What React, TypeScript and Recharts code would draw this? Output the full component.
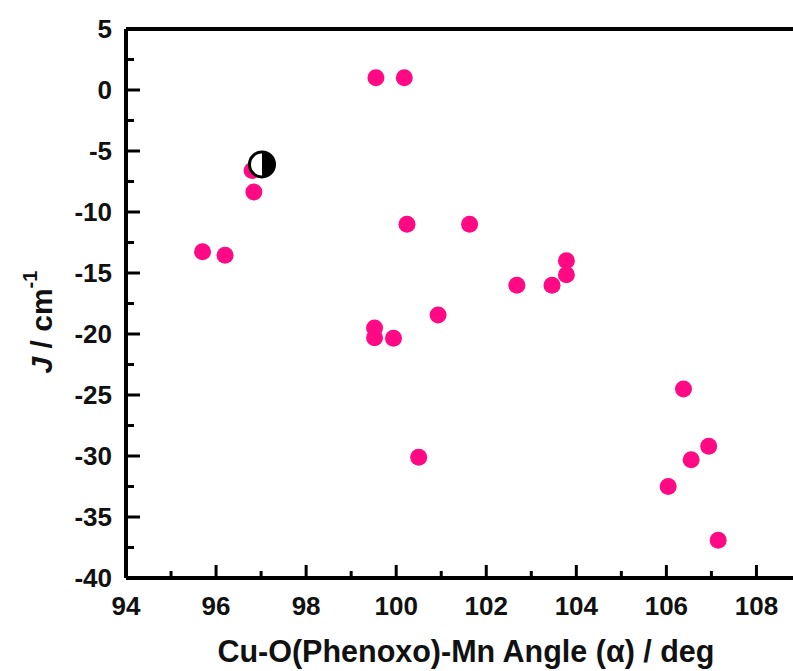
import { ScatterChart, Scatter, XAxis, YAxis, ReferenceLine, Label } from 'recharts'

// Cu-O(Phenoxo)-Mn angle vs J
const angles = [95.7, 96.2, 96.84, 96.8, 99.55, 100.18, 100.24, 101.63, 102.68, 103.46, 103.78, 103.78, 99.52, 99.52, 99.94, 100.93, 100.5, 106.38, 106.94, 106.55, 106.04, 107.15]
const jValues = [-13.25, -13.55, -8.36, -6.6, 1.0, 1.0, -11.0, -11.0, -16.0, -16.0, -14.0, -15.15, -19.5, -20.3, -20.35, -18.45, -30.1, -24.5, -29.2, -30.3, -32.5, -36.9]

// the half-filled marker (this work)
const highlightAngle = [97.02]
const highlightJ = [-6.1]

const xTicks = [94, 95, 96, 97, 98, 99, 100, 101, 102, 103, 104, 105, 106, 107, 108, 109]
const yTicks = [-40, -37.5, -35, -32.5, -30, -27.5, -25, -22.5, -20, -17.5, -15, -12.5, -10, -7.5, -5, -2.5, 0, 2.5, 5]

const points = angles.map((a, i) => ({ angle: a, J: jValues[i] }))
const highlight = highlightAngle.map((a, i) => ({ angle: a, J: highlightJ[i] }))

const PINK = '#ff0a84'
const FONT = '"Liberation Sans", Arial, Helvetica, sans-serif'

function XTick({ x, y, payload }: any) {
  const v = payload.value
  const major = v % 2 === 0
  return (
    <g>
      <line x1={x} x2={x} y1={y} y2={y - (major ? 13 : 7)} stroke="#000" strokeWidth={3} />
      {major && (
        <text x={x} y={y + 37} textAnchor="middle" fontFamily={FONT} fontWeight="bold" fontSize={26} fill="#111">
          {v}
        </text>
      )}
    </g>
  )
}

function YTick({ x, y, payload }: any) {
  const v = payload.value
  const major = v % 5 === 0
  return (
    <g>
      <line x1={x} x2={x + (major ? 14 : 8)} y1={y} y2={y} stroke="#000" strokeWidth={3} />
      {major && (
        <text x={x - 14} y={y + 9} textAnchor="end" fontFamily={FONT} fontWeight="bold" fontSize={26} fill="#111">
          {v}
        </text>
      )}
    </g>
  )
}

const Dot = (p: any) => <circle cx={p.cx} cy={p.cy} r={8.5} fill={PINK} />

const HalfDot = (p: any) => {
  const r = 12.5
  return (
    <g>
      <circle cx={p.cx} cy={p.cy} r={r} fill="#fff" stroke="#000" strokeWidth={3} />
      <path d={`M ${p.cx} ${p.cy - r} A ${r} ${r} 0 0 1 ${p.cx} ${p.cy + r} Z`} fill="#000" />
    </g>
  )
}

export default function App() {
  return (
    <div style={{ position: 'fixed', left: 0, top: 0, width: 793, height: 671, overflow: 'hidden', background: '#fff' }}>
      <ScatterChart width={824} height={671} margin={{ top: 29, right: 0, bottom: 0, left: 0 }}>
        <XAxis
          type="number" dataKey="angle" domain={[94, 109.5]} ticks={xTicks} interval={0}
          height={93} tickSize={0} tickMargin={0} tickLine={false}
          axisLine={{ stroke: '#000', strokeWidth: 4 }} tick={<XTick />}
        >
          <Label
            content={(props: any) => (
              <text x={props.viewBox.x + props.viewBox.width * 0.487} y={props.viewBox.y + 84} textAnchor="middle"
                fontFamily={FONT} fontWeight="bold" fontSize={30.5} fill="#111">
                Cu-O(Phenoxo)-Mn Angle (α) / deg
              </text>
            )}
          />
        </XAxis>
        <YAxis
          type="number" dataKey="J" domain={[-40, 5]} ticks={yTicks} interval={0}
          width={126} tickSize={0} tickMargin={0} tickLine={false}
          axisLine={{ stroke: '#000', strokeWidth: 4 }} tick={<YTick />}
        >
          <Label
            content={() => {
              const cx = 52
              const cy = 322
              return (
                <text x={cx} y={cy} transform={`rotate(-90 ${cx} ${cy})`} textAnchor="middle"
                  fontFamily={FONT} fontWeight="bold" fontSize={30} fill="#111">
                  <tspan fontStyle="italic">J</tspan> / cm<tspan dy={-15} fontSize={20}>-1</tspan>
                </text>
              )
            }}
          />
        </YAxis>
        <ReferenceLine y={5} stroke="#000" strokeWidth={4} />
        <Scatter data={points} shape={Dot} isAnimationActive={false} />
        <Scatter data={highlight} shape={HalfDot} isAnimationActive={false} />
      </ScatterChart>
    </div>
  )
}
